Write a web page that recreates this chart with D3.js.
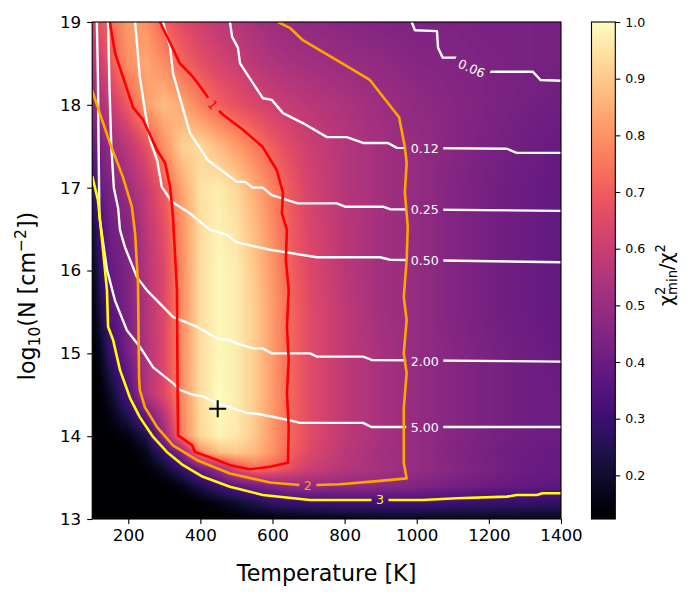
<!DOCTYPE html>
<html>
<head>
<meta charset="utf-8">
<script src="https://cdn.jsdelivr.net/npm/d3@7"></script>
<style>
  body { margin: 0; background: #fff; }
  svg { font-family: "DejaVu Sans", sans-serif; }
</style>
</head>
<body>
<svg id="chart" width="700" height="600"></svg>
<script>
// grid of chi2_min/chi2: columns = temps, rows = logNs
const temps = [100, 125, 150, 200, 250, 300, 350, 400, 450, 500, 550, 600, 650, 700, 800, 900, 1000, 1100, 1200, 1300, 1400];
const logNs = [13.0, 13.2, 13.4, 13.6, 13.8, 14.0, 14.5, 15.0, 15.5, 16.0, 16.5, 17.0, 17.5, 18.0, 18.5, 19.0];
const ratioRows = [
  [0.10, 0.10, 0.10, 0.10, 0.10, 0.10, 0.10, 0.11, 0.11, 0.12, 0.13, 0.14, 0.145, 0.15, 0.16, 0.17, 0.17, 0.17, 0.17, 0.17, 0.17],
  [0.10, 0.10, 0.10, 0.10, 0.10, 0.10, 0.11, 0.13, 0.16, 0.20, 0.24, 0.28, 0.30, 0.31, 0.32, 0.32, 0.32, 0.31, 0.30, 0.29, 0.28],
  [0.10, 0.10, 0.10, 0.10, 0.11, 0.12, 0.16, 0.24, 0.31, 0.37, 0.42, 0.45, 0.48, 0.49, 0.48, 0.47, 0.45, 0.42, 0.40, 0.38, 0.37],
  [0.10, 0.10, 0.10, 0.11, 0.13, 0.19, 0.29, 0.40, 0.50, 0.65, 0.73, 0.71, 0.66, 0.61, 0.56, 0.53, 0.49, 0.46, 0.43, 0.40, 0.39],
  [0.10, 0.10, 0.11, 0.12, 0.17, 0.30, 0.47, 0.78, 0.88, 0.90, 0.87, 0.80, 0.71, 0.65, 0.57, 0.52, 0.49, 0.45, 0.42, 0.40, 0.39],
  [0.10, 0.11, 0.12, 0.15, 0.24, 0.49, 0.77, 0.93, 0.98, 0.96, 0.90, 0.81, 0.72, 0.66, 0.58, 0.53, 0.49, 0.46, 0.43, 0.41, 0.40],
  [0.11, 0.13, 0.19, 0.34, 0.55, 0.65, 0.79, 0.94, 1.00, 0.97, 0.91, 0.82, 0.72, 0.66, 0.58, 0.53, 0.49, 0.46, 0.43, 0.41, 0.40],
  [0.12, 0.18, 0.29, 0.43, 0.55, 0.65, 0.79, 0.94, 0.99, 0.97, 0.91, 0.82, 0.72, 0.66, 0.58, 0.53, 0.49, 0.46, 0.43, 0.41, 0.39],
  [0.13, 0.24, 0.36, 0.44, 0.555, 0.65, 0.79, 0.94, 0.99, 0.97, 0.91, 0.82, 0.72, 0.66, 0.58, 0.52, 0.49, 0.45, 0.42, 0.40, 0.38],
  [0.16, 0.29, 0.39, 0.45, 0.56, 0.65, 0.79, 0.94, 0.99, 0.97, 0.90, 0.81, 0.71, 0.65, 0.57, 0.52, 0.49, 0.45, 0.42, 0.40, 0.38],
  [0.20, 0.34, 0.41, 0.45, 0.57, 0.67, 0.80, 0.94, 0.98, 0.95, 0.88, 0.79, 0.70, 0.64, 0.57, 0.52, 0.49, 0.45, 0.42, 0.40, 0.38],
  [0.30, 0.40, 0.44, 0.51, 0.60, 0.70, 0.84, 0.95, 0.97, 0.93, 0.85, 0.77, 0.69, 0.63, 0.56, 0.52, 0.49, 0.45, 0.42, 0.40, 0.38],
  [0.38, 0.44, 0.50, 0.58, 0.67, 0.80, 0.92, 0.93, 0.88, 0.82, 0.76, 0.70, 0.65, 0.61, 0.56, 0.52, 0.49, 0.46, 0.43, 0.41, 0.39],
  [0.47, 0.54, 0.60, 0.70, 0.82, 0.88, 0.84, 0.77, 0.71, 0.67, 0.64, 0.61, 0.59, 0.57, 0.54, 0.51, 0.48, 0.46, 0.44, 0.42, 0.41],
  [0.55, 0.62, 0.69, 0.80, 0.84, 0.79, 0.72, 0.67, 0.63, 0.60, 0.57, 0.55, 0.53, 0.52, 0.50, 0.48, 0.46, 0.45, 0.44, 0.43, 0.42],
  [0.62, 0.68, 0.73, 0.82, 0.80, 0.71, 0.65, 0.61, 0.58, 0.56, 0.53, 0.505, 0.49, 0.48, 0.46, 0.45, 0.44, 0.44, 0.43, 0.43, 0.42]
];

// confidence contours, [T, log10 N]
const sigma1 = [[149, 19.0], [163, 18.63], [185, 18.34], [213, 17.97], [241, 17.82], [280, 17.45], [302, 17.30], [316, 17.01], [324, 16.65], [335, 15.76], [337, 14.4], [338, 14.01], [377, 13.89], [385, 13.81], [435, 13.73], [482, 13.65], [537, 13.60], [593, 13.63], [643, 13.68], [645, 14.11], [640, 14.52], [645, 14.92], [640, 15.32], [645, 15.76], [637, 16.13], [640, 16.49], [626, 16.69], [629, 16.94], [612, 17.21], [573, 17.49], [518, 17.70], [463, 17.88], [435, 18.0], [413, 18.14], [379, 18.34], [343, 18.50], [316, 18.75], [288, 19.0]];
const sigma2 = [[100, 18.17], [149, 17.54], [185, 17.13], [210, 16.77], [219, 16.45], [227, 15.85], [230, 14.70], [232, 14.56], [246, 14.35], [280, 14.11], [324, 13.89], [391, 13.71], [482, 13.55], [593, 13.44], [676, 13.41], [720, 13.41], [787, 13.42], [898, 13.46], [972, 13.49], [964, 13.68], [964, 14.34], [972, 14.76], [964, 15.00], [972, 15.40], [964, 15.68], [972, 16.13], [975, 16.53], [967, 16.94], [972, 17.30], [967, 17.49], [951, 17.85], [870, 18.30], [778, 18.54], [684, 18.78], [648, 18.93], [615, 19.0]];
const sigma3 = [[100, 17.14], [116, 16.85], [130, 16.25], [141, 15.76], [144, 15.32], [158, 15.16], [177, 14.80], [205, 14.46], [232, 14.23], [269, 13.99], [307, 13.81], [352, 13.65], [407, 13.51], [482, 13.39], [573, 13.29], [704, 13.23], [898, 13.23], [1017, 13.23], [1111, 13.25], [1250, 13.27], [1277, 13.29], [1333, 13.29], [1349, 13.31], [1400, 13.31]];

// white contours of the second quantity
const white006 = [[986, 19.0], [995, 18.90], [1056, 18.89], [1059, 18.69], [1072, 18.57], [1111, 18.57], [1197, 18.40], [1322, 18.40], [1343, 18.30], [1400, 18.29]];
const white012 = [[482, 19.0], [488, 18.82], [504, 18.69], [510, 18.50], [573, 18.08], [598, 18.06], [629, 17.90], [684, 17.78], [751, 17.61], [806, 17.61], [851, 17.54], [920, 17.54], [945, 17.48], [1250, 17.47], [1277, 17.42], [1400, 17.42]];
const white025 = [[296, 19.0], [316, 18.70], [324, 18.38], [371, 17.66], [421, 17.33], [501, 17.07], [524, 17.07], [546, 17.00], [573, 17.00], [598, 16.91], [670, 16.81], [778, 16.81], [801, 16.77], [906, 16.77], [926, 16.74], [1400, 16.72]];
const white050 = [[219, 19.0], [232, 18.34], [246, 17.94], [260, 17.58], [280, 17.33], [293, 17.01], [321, 16.83], [371, 16.69], [427, 16.49], [474, 16.43], [501, 16.34], [593, 16.25], [723, 16.16], [898, 16.16], [926, 16.13], [1400, 16.10]];
const white200 = [[144, 19.0], [148, 18.2], [153, 17.5], [160, 17.0], [172, 16.75], [177, 16.49], [191, 16.28], [224, 15.92], [252, 15.76], [324, 15.44], [391, 15.32], [446, 15.18], [482, 15.16], [501, 15.12], [546, 15.06], [573, 15.06], [598, 15.00], [704, 15.00], [723, 14.96], [851, 14.96], [875, 14.92], [1400, 14.90]];
const white500 = [[113, 19.0], [116, 18.3], [118, 17.4], [120, 16.65], [141, 16.01], [163, 15.64], [196, 15.28], [232, 15.08], [269, 14.83], [324, 14.64], [343, 14.56], [379, 14.50], [407, 14.48], [446, 14.40], [501, 14.32], [529, 14.28], [557, 14.27], [593, 14.24], [648, 14.19], [676, 14.16], [851, 14.16], [875, 14.11], [1400, 14.11]];

// inline labels
const labelText = ['1', '2', '3', '0.06', '0.12', '0.25', '0.50', '2.00', '5.00'];
const labelT = [435, 698, 898, 1152, 1022, 1022, 1022, 1022, 1022];
const labelN = [18.0, 13.41, 13.23, 18.44, 17.47, 16.74, 16.12, 14.90, 14.11];
const labelAngle = [50, 0, 0, 23, 0, 0, 0, 0, 0];

const bestFit = [448, 14.33];
const xTicks = [200, 400, 600, 800, 1000, 1200, 1400];
const yTicks = [13, 14, 15, 16, 17, 18, 19];
const cbarTicks = [0.2, 0.3, 0.4, 0.5, 0.6, 0.7, 0.8, 0.9, 1.0];
const cbarRange = [0.123, 1.0];

const m = { left: 92.2, right: 561, top: 22, bottom: 519 };
const svg = d3.select('#chart');

const x = d3.scaleLinear().domain([100, 1400]).range([m.left, m.right]);
const y = d3.scaleLinear().domain([13, 19]).range([m.bottom, m.top]);
const lutIndex = d3.scaleLinear().domain(cbarRange).range([0, 255]).clamp(true);
const lut = d3.range(256).map(i => d3.rgb(d3.interpolateMagma(i / 255)));

// heat map drawn into a canvas, one pixel at a time
const pw = Math.round(m.right - m.left), ph = Math.round(m.bottom - m.top);
const canvas = document.createElement('canvas');
canvas.width = pw; canvas.height = ph;
const ctx = canvas.getContext('2d');
const img = ctx.createImageData(pw, ph);
const rowScales = ratioRows.map(r => d3.scaleLinear().domain(temps).range(r).clamp(true));
for (let i = 0; i < pw; i++) {
  const t = x.invert(m.left + (i + 0.5) * (m.right - m.left) / pw);
  const col = d3.scaleLinear().domain(logNs).range(rowScales.map(s => s(t))).clamp(true);
  for (let j = 0; j < ph; j++) {
    const c = lut[Math.round(lutIndex(col(y.invert(m.top + (j + 0.5) * (m.bottom - m.top) / ph))))];
    const k = (j * pw + i) * 4;
    img.data[k] = c.r; img.data[k + 1] = c.g; img.data[k + 2] = c.b; img.data[k + 3] = 255;
  }
}
ctx.putImageData(img, 0, 0);
svg.append('image')
  .attr('x', m.left).attr('y', m.top)
  .attr('width', m.right - m.left).attr('height', m.bottom - m.top)
  .attr('preserveAspectRatio', 'none')
  .attr('href', canvas.toDataURL());

const defs = svg.append('defs');
defs.append('clipPath').attr('id', 'plotclip')
  .append('rect').attr('x', m.left).attr('y', m.top)
  .attr('width', m.right - m.left).attr('height', m.bottom - m.top);

const line = d3.line().x(d => x(d[0])).y(d => y(d[1]));
const lines = [
  { pts: white006, stroke: '#fff', label: 3 },
  { pts: white012, stroke: '#fff', label: 4 },
  { pts: white025, stroke: '#fff', label: 5 },
  { pts: white050, stroke: '#fff', label: 6 },
  { pts: white200, stroke: '#fff', label: 7 },
  { pts: white500, stroke: '#fff', label: 8 },
  { pts: sigma3, stroke: '#ffff00', label: 2 },
  { pts: sigma2, stroke: '#ffa500', label: 1 },
  { pts: sigma1, stroke: '#ff0000', label: 0 }
];

const gPlot = svg.append('g').attr('clip-path', 'url(#plotclip)');
const gLabels = svg.append('g');

lines.forEach((ln, idx) => {
  const li = ln.label;
  const lx = x(labelT[li]), ly = y(labelN[li]);
  const txt = gLabels.append('text')
    .attr('transform', `translate(${lx},${ly}) rotate(${labelAngle[li]})`)
    .attr('text-anchor', 'middle')
    .attr('dominant-baseline', 'central')
    .attr('font-size', 12.6)
    .attr('fill', ln.stroke)
    .text(labelText[li]);
  const gap = txt.node().getComputedTextLength() + 9;
  const mask = defs.append('mask').attr('id', 'gap' + idx)
    .attr('maskUnits', 'userSpaceOnUse')
    .attr('x', 0).attr('y', 0).attr('width', 700).attr('height', 600);
  mask.append('rect').attr('x', 0).attr('y', 0).attr('width', 700).attr('height', 600).attr('fill', '#fff');
  mask.append('rect')
    .attr('transform', `translate(${lx},${ly}) rotate(${labelAngle[li]})`)
    .attr('x', -gap / 2).attr('y', -9).attr('width', gap).attr('height', 18)
    .attr('fill', '#000');
  gPlot.append('path')
    .attr('d', line(ln.pts))
    .attr('fill', 'none')
    .attr('stroke', ln.stroke)
    .attr('stroke-width', ln.stroke === '#fff' ? 2.4 : 2.6)
    .attr('stroke-linejoin', 'round')
    .attr('mask', `url(#gap${idx})`);
});
gLabels.raise();

// best-fit marker
svg.append('path')
  .attr('d', `M${x(bestFit[0]) - 8.5},${y(bestFit[1])}h17M${x(bestFit[0])},${y(bestFit[1]) - 8.5}v17`)
  .attr('stroke', '#000').attr('stroke-width', 2).attr('fill', 'none');

// frame and axes
svg.append('rect')
  .attr('x', m.left).attr('y', m.top)
  .attr('width', m.right - m.left).attr('height', m.bottom - m.top)
  .attr('fill', 'none').attr('stroke', '#000').attr('stroke-width', 1.1);

const xAxis = svg.append('g')
  .attr('transform', `translate(0,${m.bottom})`)
  .call(d3.axisBottom(x).tickValues(xTicks).tickSize(5).tickPadding(5).tickFormat(d3.format('d')));
const yAxis = svg.append('g')
  .attr('transform', `translate(${m.left},0)`)
  .call(d3.axisLeft(y).tickValues(yTicks).tickSize(5).tickPadding(6).tickFormat(d3.format('d')));
[xAxis, yAxis].forEach(a => {
  a.select('.domain').remove();
  a.selectAll('.tick line').attr('stroke-width', 1.1);
  a.selectAll('.tick text').attr('font-size', 16.7).attr('font-family', '"DejaVu Sans", sans-serif').attr('fill', '#000');
});

svg.append('text')
  .attr('x', (m.left + m.right) / 2).attr('y', 581)
  .attr('text-anchor', 'middle').attr('font-size', 22.2)
  .text('Temperature [K]');

const yl = svg.append('text')
  .attr('transform', 'translate(35,296) rotate(-90)')
  .attr('text-anchor', 'middle').attr('font-size', 22.2);
yl.append('tspan').text('log');
yl.append('tspan').attr('font-size', 15.5).attr('dy', 5).text('10');
yl.append('tspan').attr('dy', -5).text('(N [cm');
yl.append('tspan').attr('font-size', 15.5).attr('dy', -9).text('\u22122');
yl.append('tspan').attr('dy', 9).text('])');

// colour bar
const cb = { left: 591.5, width: 23.8 };
const cy = d3.scaleLinear().domain(cbarRange).range([m.bottom, m.top]);
const grad = defs.append('linearGradient').attr('id', 'cbgrad')
  .attr('x1', 0).attr('y1', 1).attr('x2', 0).attr('y2', 0);
d3.range(0, 1.0001, 0.02).forEach(t => {
  grad.append('stop').attr('offset', t).attr('stop-color', d3.interpolateMagma(t));
});
svg.append('rect')
  .attr('x', cb.left).attr('y', m.top)
  .attr('width', cb.width).attr('height', m.bottom - m.top)
  .attr('fill', 'url(#cbgrad)')
  .attr('stroke', '#000').attr('stroke-width', 1.1);
const cAxis = svg.append('g')
  .attr('transform', `translate(${cb.left + cb.width},0)`)
  .call(d3.axisRight(cy).tickValues(cbarTicks).tickSize(5).tickPadding(5).tickFormat(d3.format('.1f')));
cAxis.select('.domain').remove();
cAxis.selectAll('.tick line').attr('stroke-width', 1.1);
cAxis.selectAll('.tick text').attr('font-size', 12.6).attr('font-family', '"DejaVu Sans", sans-serif').attr('fill', '#000');

const cl = svg.append('text')
  .attr('transform', 'translate(673,275) rotate(-90)')
  .attr('text-anchor', 'middle').attr('font-size', 19);
cl.append('tspan').text('\u03c7');
cl.append('tspan').attr('font-size', 13.3).attr('dy', -8).text('2');
cl.append('tspan').attr('font-size', 13.3).attr('dx', -8.5).attr('dy', 12).text('min');
cl.append('tspan').attr('dy', -4).text('/\u03c7');
cl.append('tspan').attr('font-size', 13.3).attr('dy', -8).text('2');
</script>
</body>
</html>
